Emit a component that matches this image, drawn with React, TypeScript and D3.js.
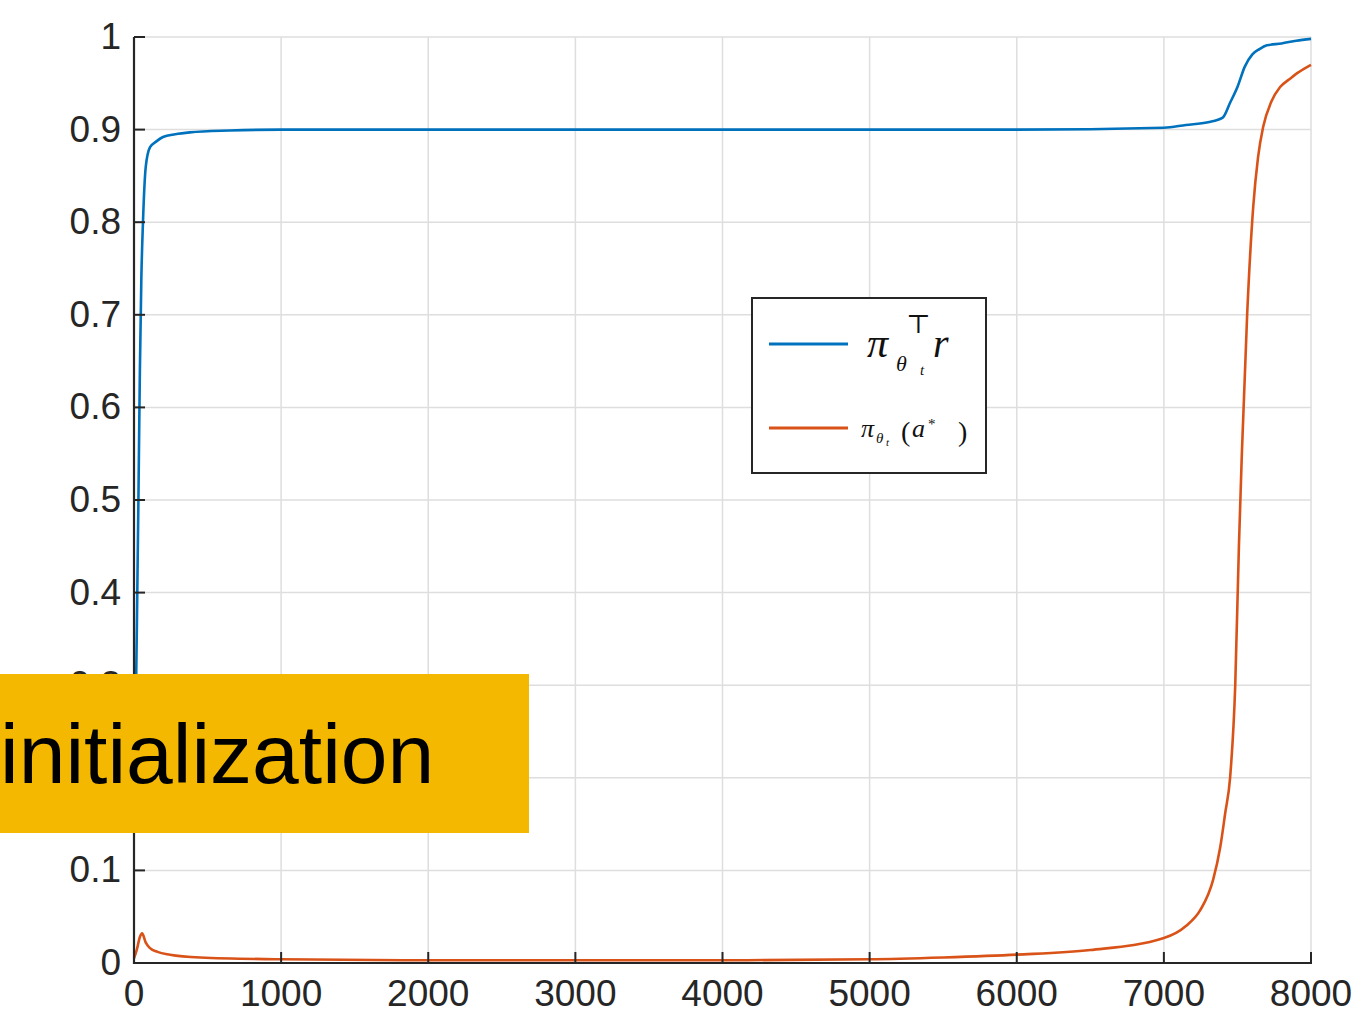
import React from "react";
import * as d3 from "d3";

const blueIter = [0, 10, 15, 20, 30, 40, 50, 61, 80, 109, 150, 197, 280, 380, 650, 1000, 2000, 3000, 4000, 5000, 6000, 7000, 7150, 7300, 7400, 7450, 7500, 7550, 7600, 7650, 7700, 7800, 7900, 8000];
const blueVal = [0.2, 0.26, 0.31, 0.37, 0.5, 0.64, 0.74, 0.8, 0.86, 0.881, 0.887, 0.892, 0.895, 0.897, 0.899, 0.9, 0.9, 0.9, 0.9, 0.9, 0.9, 0.902, 0.905, 0.908, 0.913, 0.929, 0.946, 0.968, 0.981, 0.987, 0.991, 0.993, 0.996, 0.998];

const orangeIter = [0, 20, 40, 55, 80, 109, 160, 245, 450, 1000, 2000, 3000, 4000, 5000, 5500, 6000, 6500, 7000, 7150, 7247, 7335, 7383, 7417, 7450, 7485, 7510, 7530, 7566, 7607, 7640, 7675, 7730, 7790, 7850, 7906, 8000];
const orangeVal = [0.005, 0.015, 0.028, 0.032, 0.022, 0.016, 0.012, 0.009, 0.006, 0.004, 0.003, 0.003, 0.003, 0.004, 0.006, 0.009, 0.014, 0.027, 0.04, 0.057, 0.09, 0.125, 0.162, 0.2, 0.3, 0.45, 0.55, 0.7, 0.816, 0.87, 0.903, 0.93, 0.946, 0.954, 0.961, 0.97];

const xTicks = [0, 1000, 2000, 3000, 4000, 5000, 6000, 7000, 8000];
const yTicks = [0, 0.1, 0.2, 0.3, 0.4, 0.5, 0.6, 0.7, 0.8, 0.9, 1];
const yTickLabels = ["0", "0.1", "0.2", "0.3", "0.4", "0.5", "0.6", "0.7", "0.8", "0.9", "1"];
const overlayLabel = "initialization";

export default function App() {
  const W = 1353, H = 1013;
  const x = d3.scaleLinear().domain([0, 8000]).range([134, 1311]);
  const y = d3.scaleLinear().domain([0, 1]).range([963, 37]);
  const line = d3.line<[number, number]>().x(d => x(d[0])).y(d => y(d[1])).curve(d3.curveMonotoneX);
  const blue = blueIter.map((v, i) => [v, blueVal[i]] as [number, number]);
  const orange = orangeIter.map((v, i) => [v, orangeVal[i]] as [number, number]);
  const axisColor = "#262626";
  const font = "'Liberation Sans', Arial, Helvetica, sans-serif";
  const math = "'Liberation Serif', 'DejaVu Serif', serif";
  return (
    <svg width={W} height={H} style={{ position: "absolute", left: 0, top: 0, background: "#fff" }}>
      <rect x={0} y={0} width={W} height={H} fill="#fff" />
      {xTicks.map(t => (
        <line key={"gx" + t} x1={x(t)} x2={x(t)} y1={y(0)} y2={y(1)} stroke="#dedede" strokeWidth={1.5} />
      ))}
      {yTicks.map(t => (
        <line key={"gy" + t} x1={x(0)} x2={x(8000)} y1={y(t)} y2={y(t)} stroke="#dedede" strokeWidth={1.5} />
      ))}
      <path d={line(orange) || ""} fill="none" stroke="#D95319" strokeWidth={2.6} />
      <path d={line(blue) || ""} fill="none" stroke="#0072BD" strokeWidth={2.6} />
      <line x1={x(0)} x2={x(0)} y1={y(0) + 1} y2={y(1)} stroke={axisColor} strokeWidth={2.2} />
      <line x1={x(0) - 1} x2={x(8000) + 1} y1={y(0)} y2={y(0)} stroke={axisColor} strokeWidth={2.2} />
      {xTicks.map(t => (
        <g key={"tx" + t}>
          <line x1={x(t)} x2={x(t)} y1={y(0)} y2={y(0) - 11} stroke={axisColor} strokeWidth={2} />
          <text x={x(t)} y={1006} textAnchor="middle" fontFamily={font} fontSize={37} fill={axisColor}>{t}</text>
        </g>
      ))}
      {yTicks.map((t, i) => (
        <g key={"ty" + t}>
          <line x1={x(0)} x2={x(0) + 11} y1={y(t)} y2={y(t)} stroke={axisColor} strokeWidth={2} />
          <text x={121} y={y(t) + 12} textAnchor="end" fontFamily={font} fontSize={37} fill={axisColor}>{yTickLabels[i]}</text>
        </g>
      ))}
      <g>
        <rect x={752} y={298} width={234} height={175} fill="#fff" stroke={axisColor} strokeWidth={2} />
        <line x1={769} x2={848} y1={344} y2={344} stroke="#0072BD" strokeWidth={3} />
        <line x1={769} x2={848} y1={428} y2={428} stroke="#D95319" strokeWidth={3} />
        <text fontFamily={math} fill="#111">
          <tspan x={867} y={357} fontSize={42} fontStyle="italic">π</tspan>
          <tspan x={896} y={371} fontSize={22} fontStyle="italic">θ</tspan>
          <tspan x={920} y={375} fontSize={15} fontStyle="italic">t</tspan>
          <tspan x={906} y={333} fontSize={26}>⊤</tspan>
          <tspan x={933} y={357} fontSize={40} fontStyle="italic">r</tspan>
        </text>
        <text fontFamily={math} fill="#111">
          <tspan x={861} y={437} fontSize={26} fontStyle="italic">π</tspan>
          <tspan x={876} y={443} fontSize={15} fontStyle="italic">θ</tspan>
          <tspan x={886} y={446} fontSize={11} fontStyle="italic">t</tspan>
          <tspan x={901} y={441} fontSize={28}>(</tspan>
          <tspan x={912} y={437} fontSize={26} fontStyle="italic">a</tspan>
          <tspan x={928} y={429} fontSize={15}>*</tspan>
          <tspan x={958} y={441} fontSize={28}>)</tspan>
        </text>
      </g>
      <rect x={0} y={674} width={529} height={159} fill="#F5B800" />
      <text x={0} y={783} fontFamily={font} fontSize={84} fill="#000">{overlayLabel}</text>
    </svg>
  );
}
